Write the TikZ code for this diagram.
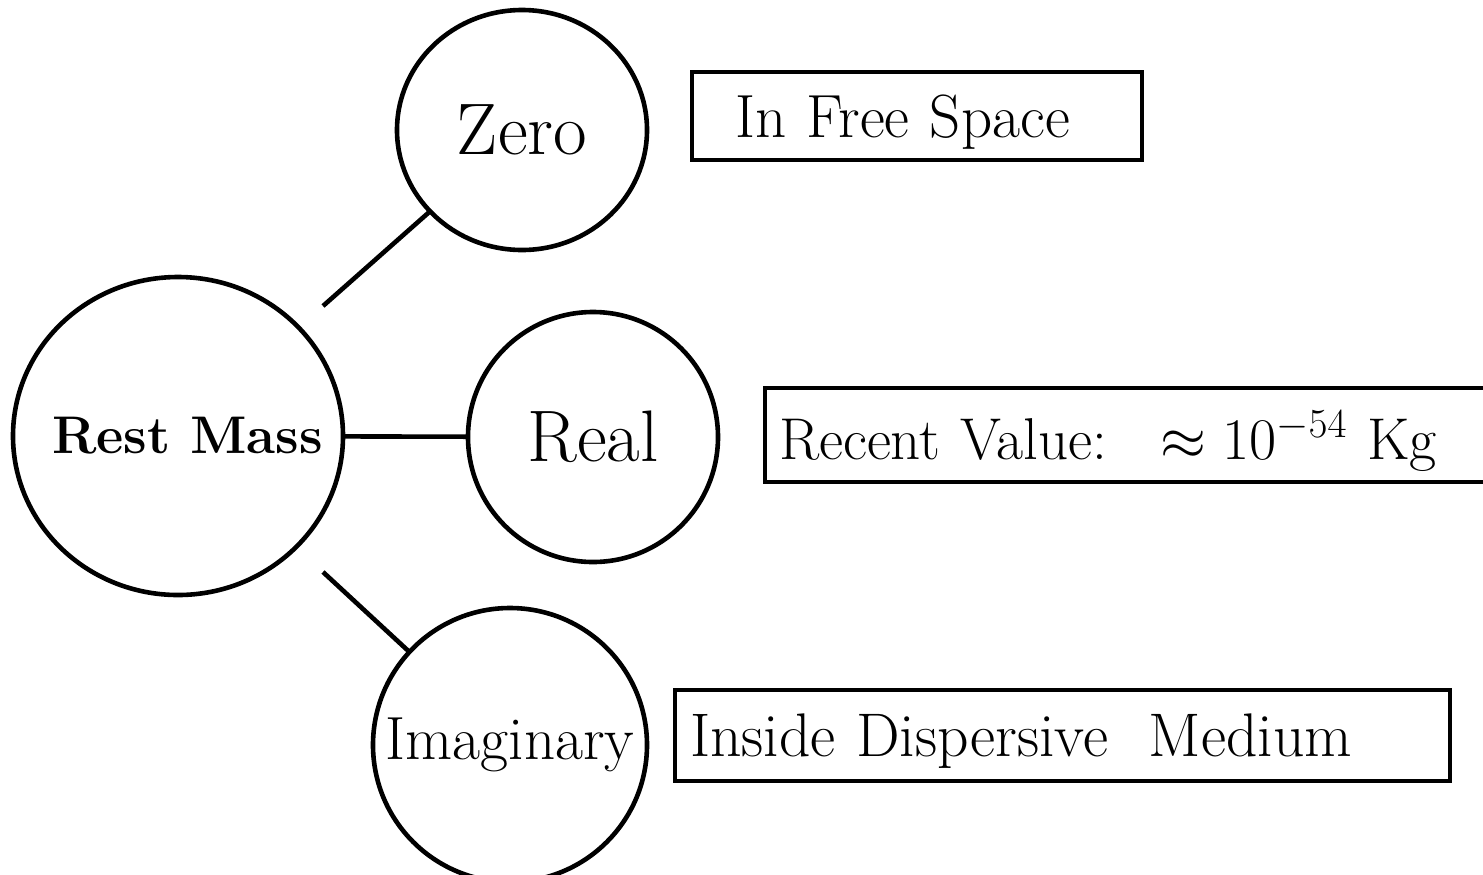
\RequirePackage{fix-cm}
\documentclass[tikz,border=0pt]{standalone}
\usepackage{fontspec}
\usetikzlibrary{shapes.geometric}
\begin{document}
\begin{tikzpicture}[x=0.5pt,y=-0.5pt,line width=2.3pt,
  circ/.style={draw,ellipse,inner sep=0pt,outer sep=0pt},
  box/.style={draw,rectangle,align=left,outer sep=0pt,anchor=north west,inner ysep=0pt,text depth=0pt},
  big/.style={font=\fontsize{36.5}{42}\selectfont},
  med/.style={font=\fontsize{30.5}{35}\selectfont}]
\useasboundingbox (0,0) rectangle (1483,874);
\clip (0,0) rectangle (1483,874);
% circles
\node[circ,minimum width=165pt,minimum height=159pt,font=\fontsize{26.5}{30}\selectfont\bfseries] (rest) at (178,436) {\makebox[0pt]{\hspace*{9.5pt}Rest Mass}};
\node[circ,big,minimum width=125pt,minimum height=120pt] (zero) at (522,130) {\makebox[0pt]{Zero}};
\node[circ,big,minimum width=125pt,minimum height=125pt] (real) at (593,437) {\makebox[0pt]{Real}};
\node[circ,med,minimum width=137pt,minimum height=137pt] (imag) at (510,745) {\makebox[0pt]{Imaginary}};
% free ends of connectors
\coordinate (c1) at (323,306);
\coordinate (c2) at (323,572);
\draw (c1) -- (zero);
\draw (rest) -- (real);
\draw (c2) -- (imag);
% boxes
\node[box,med,minimum height=44pt,inner xsep=21.5pt,text width=182pt] (free) at (692,72) {In Free Space};
\node[box,font=\fontsize{29.5}{34}\selectfont,minimum height=47pt,inner xsep=7pt,text width=366pt] (recent) at (765,388)
  {Recent Value:\hspace{0.9em}$\approx 10^{-54}$ Kg};
\node[box,font=\fontsize{30.8}{35}\selectfont,minimum height=45.5pt,inner xsep=7.5pt,text width=372.5pt] (disp) at (675,690) {Inside Dispersive\ \ Medium};
\end{tikzpicture}
\end{document}
